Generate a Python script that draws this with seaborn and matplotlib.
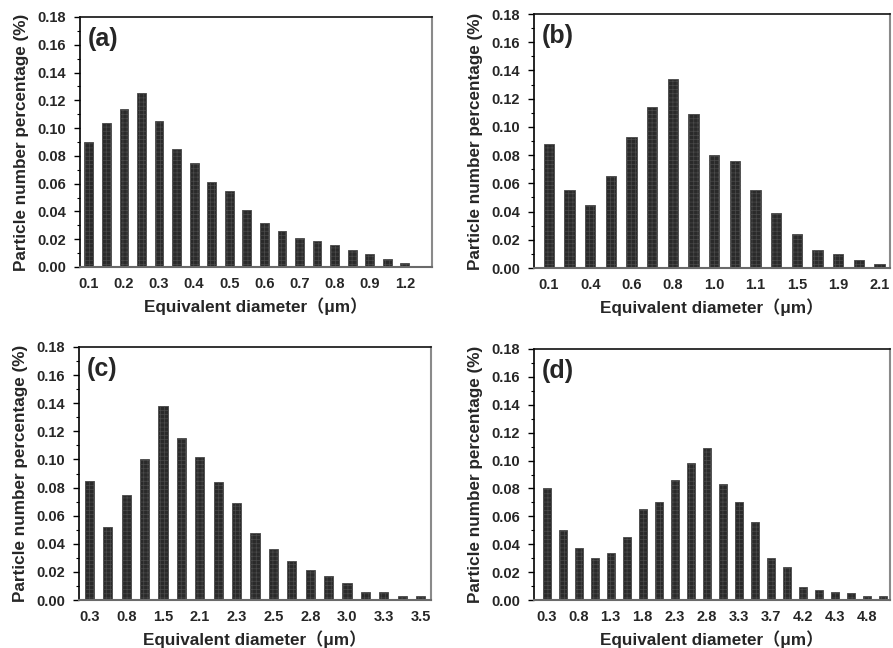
import numpy as np
import pandas as pd
import matplotlib
matplotlib.use("Agg")
import matplotlib.pyplot as plt
from matplotlib import font_manager
from matplotlib.ticker import MultipleLocator
import seaborn as sns

sns.set_theme(style="white")

# Prefer a narrow sans for the tall, tight lettering; fall back to the regular width.
try:
    font_manager.findfont("Liberation Sans Narrow", fallback_to_default=False)
    base_family = "Liberation Sans Narrow"
    scale = 1.2
except ValueError:
    base_family = "Liberation Sans"
    scale = 1.0

plt.rcParams["font.family"] = [base_family, "Noto Sans CJK SC", "DejaVu Sans"]
plt.rcParams["font.weight"] = "bold"
plt.rcParams["hatch.linewidth"] = 0.5
plt.rcParams["hatch.color"] = "#5c5c5c"

# Particle number fractions per size bin
values_a = [0.090, 0.104, 0.114, 0.125, 0.105, 0.085, 0.075, 0.061, 0.055, 0.041,
            0.032, 0.026, 0.021, 0.019, 0.016, 0.012, 0.009, 0.006, 0.003, 0.001]
values_b = [0.088, 0.055, 0.045, 0.065, 0.093, 0.114, 0.134, 0.109, 0.080, 0.076,
            0.055, 0.039, 0.024, 0.013, 0.010, 0.006, 0.003]
values_c = [0.085, 0.052, 0.075, 0.100, 0.138, 0.115, 0.102, 0.084, 0.069, 0.048,
            0.036, 0.028, 0.021, 0.017, 0.012, 0.006, 0.006, 0.003, 0.003]
values_d = [0.080, 0.050, 0.037, 0.030, 0.034, 0.045, 0.065, 0.070, 0.086, 0.098,
            0.109, 0.083, 0.070, 0.056, 0.030, 0.024, 0.009, 0.007, 0.006, 0.005,
            0.003, 0.003]

# Diameter labels shown under every second bin
ticks_a = ["0.1", "0.2", "0.3", "0.4", "0.5", "0.6", "0.7", "0.8", "0.9", "1.2"]
ticks_b = ["0.1", "0.4", "0.6", "0.8", "1.0", "1.1", "1.5", "1.9", "2.1"]
ticks_c = ["0.3", "0.8", "1.5", "2.1", "2.3", "2.5", "2.8", "3.0", "3.3", "3.5"]
ticks_d = ["0.3", "0.8", "1.3", "1.8", "2.3", "2.8", "3.3", "3.7", "4.2", "4.3", "4.8"]

panel_tags = ["(a)", "(b)", "(c)", "(d)"]

W, H = 893, 648
fig = plt.figure(figsize=(W / 100, H / 100), dpi=100)

# axes boxes in pixels: left, top, right, bottom
boxes = [(80, 17, 432, 267), (534, 14, 890, 268),
         (79, 347, 431, 600), (534, 349, 890, 600)]
xlims = [(-0.5, 19.55), (-0.72, 16.5), (-0.56, 18.56), (-0.79, 21.46)]

panels = [(values_a, ticks_a), (values_b, ticks_b),
          (values_c, ticks_c), (values_d, ticks_d)]

tick_fs = 10.5 * scale
label_fs = 12.3 * scale
tag_fs = 18 * scale

for (vals, labels), (l, t, r, b), tag, xl in zip(panels, boxes, panel_tags, xlims):
    ax = fig.add_axes([l / W, 1 - b / H, (r - l) / W, (b - t) / H])
    df = pd.DataFrame({"bin": np.arange(len(vals)), "frac": vals})
    sns.barplot(data=df, x="bin", y="frac", ax=ax, color="#2a2a2a",
                saturation=1, width=0.5, edgecolor="#4a4a4a", linewidth=0.6,
                hatch="++++")
    ax.set_xlim(*xl)
    ax.set_ylim(0, 0.18)
    ax.yaxis.set_major_locator(MultipleLocator(0.02))
    ax.yaxis.set_minor_locator(MultipleLocator(0.01))
    ax.set_yticklabels([f"{v:.2f}" for v in ax.get_yticks()])
    ax.set_xticks(np.arange(0, len(vals), 2)[:len(labels)])
    ax.set_xticklabels(labels)
    ax.tick_params(axis="y", which="major", direction="out", length=4,
                   width=1, color="black", left=True, labelsize=tick_fs, pad=6)
    ax.tick_params(axis="y", which="minor", direction="out", length=2.5,
                   width=0.8, color="black", left=True)
    ax.tick_params(axis="x", length=0, labelsize=tick_fs, pad=7)
    for lab in ax.get_xticklabels() + ax.get_yticklabels():
        lab.set_fontweight("bold")
    ax.spines["left"].set_color("black")
    ax.spines["left"].set_linewidth(1.2)
    ax.spines["top"].set_color("#111111")
    ax.spines["top"].set_linewidth(1.2)
    ax.spines["right"].set_color("#8a8a8a")
    ax.spines["right"].set_linewidth(1.5)
    ax.spines["bottom"].set_color("#6a6a6a")
    ax.spines["bottom"].set_linewidth(1.5)
    ax.set_ylabel("Particle number percentage (%)", fontsize=label_fs,
                  fontweight="bold", labelpad=6)
    ax.set_xlabel("Equivalent diameter\uff08\u03bcm\uff09", fontsize=label_fs,
                  fontweight="bold", labelpad=5)
    ax.text(0.022, 0.96, tag, transform=ax.transAxes, fontsize=tag_fs,
            fontweight="bold", va="top", ha="left")

fig.savefig("out.png", dpi=100)
